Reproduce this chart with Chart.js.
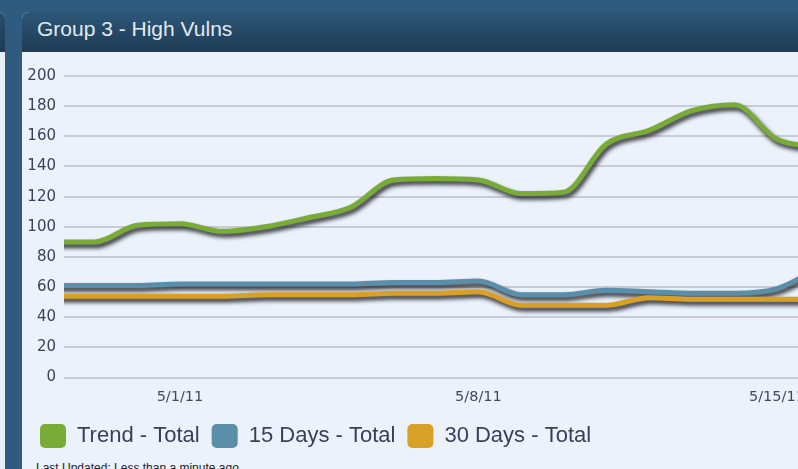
<!DOCTYPE html>
<html>
<head>
<meta charset="utf-8">
<script src="https://cdn.jsdelivr.net/npm/chart.js@4.4.0/dist/chart.umd.min.js"></script>
<style>
html, body { margin: 0; padding: 0; width: 798px; height: 469px; overflow: hidden; background: #2e5b7e; font-family: "Liberation Sans", Arial, sans-serif; }
#leftPanel { position: absolute; left: -30px; top: 12px; width: 35px; height: 480px; background: #e6edf6; border-radius: 0 6px 0 0; overflow: hidden; }
#leftPanel .hd { height: 40px; background: linear-gradient(#2b5070, #1d3a52); }
#panel { position: absolute; left: 22px; top: 12px; width: 820px; height: 480px; background: #ebf2fb; border-radius: 7px 0 0 0; overflow: hidden; }
#panel .hd { height: 40px; background: linear-gradient(#2d5778, #1d3b54); color: #e2eaf0; font-size: 21px; line-height: 33px; padding-left: 15px; }
#wrap { position: absolute; left: 2px; top: 40px; width: 880px; height: 406px; }
#updated { position: absolute; left: 14px; top: 449px; font-size: 12px; color: #222; white-space: nowrap; }
</style>
</head>
<body>
<div id="leftPanel"><div class="hd"></div></div>
<div id="panel">
  <div class="hd">Group 3 - High Vulns</div>
  <div id="wrap"><canvas id="vulnChart"></canvas></div>
  <div id="updated">Last Updated: Less than a minute ago</div>
</div>
<script>
// one point per day
const dates = ['4/28/11', '4/29/11', '4/30/11', '5/1/11', '5/2/11', '5/3/11', '5/4/11', '5/5/11', '5/6/11', '5/7/11',
  '5/8/11', '5/9/11', '5/10/11', '5/11/11', '5/12/11', '5/13/11', '5/14/11', '5/15/11', '5/16/11'];
const tickDates = ['5/1/11', '5/8/11', '5/15/11'];
const trendTotal = [90, 90, 101, 102, 97, 100, 106, 113, 131, 132, 131, 122, 123, 155, 164, 177, 181, 158, 153];
const days15Total = [61, 61, 61, 62, 62, 62, 62, 62, 63, 63, 64, 55, 55, 58, 57, 56, 56, 59, 73];
const days30Total = [54, 54, 54, 54, 54, 55, 55, 55, 56, 56, 57, 48, 48, 48, 53, 52, 52, 52, 52];
const yTicks = [0, 20, 40, 60, 80, 100, 120, 140, 160, 180, 200];

const toPoints = arr => arr.map((v, i) => ({ x: i, y: v }));

// drop shadow under the lines
const lineShadow = {
  id: 'lineShadow',
  beforeDatasetsDraw(chart) {
    const c = chart.ctx;
    c.save();
    c.shadowColor = 'rgba(20, 20, 24, 0.9)';
    c.shadowBlur = 4;
    c.shadowOffsetX = 2;
    c.shadowOffsetY = 3.5;
  },
  afterDatasetsDraw(chart) {
    chart.ctx.restore();
  }
};

function makeSet(label, data, color, order) {
  return {
    label: label,
    data: toPoints(data),
    borderColor: color,
    backgroundColor: color,
    borderWidth: 5,
    pointRadius: 0,
    cubicInterpolationMode: 'monotone',
    borderCapStyle: 'round',
    borderJoinStyle: 'round',
    fill: false,
    clip: 0,
    order: order
  };
}

const ctx = document.getElementById('vulnChart').getContext('2d');
new Chart(ctx, {
  type: 'line',
  data: {
    datasets: [
      makeSet('Trend - Total', trendTotal, '#78ac37', 0),
      makeSet('15 Days - Total', days15Total, '#5a8ea9', 2),
      makeSet('30 Days - Total', days30Total, '#d9a027', 1)
    ]
  },
  options: {
    responsive: true,
    maintainAspectRatio: false,
    animation: false,
    layout: { padding: { left: 4, top: 24, right: 0, bottom: 0 } },
    scales: {
      x: {
        type: 'linear',
        min: 0.28,
        max: 19.98,
        grid: { display: false },
        border: { display: false },
        afterBuildTicks: s => { s.ticks = tickDates.map(d => ({ value: dates.indexOf(d) })); },
        afterFit: s => { s.height += 3; },
        ticks: {
          autoSkip: false,
          maxRotation: 0,
          padding: 3,
          color: '#44485c',
          font: { family: 'DejaVu Sans', size: 14.5 },
          callback: v => dates[v]
        }
      },
      y: {
        min: 0,
        max: 200,
        afterBuildTicks: s => { s.ticks = yTicks.map(v => ({ value: v })); },
        afterFit: s => { s.width = 36; },
        grid: { color: '#c9ccd6', lineWidth: 2, drawTicks: false },
        border: { display: false },
        ticks: {
          padding: 8,
          color: '#3d4158',
          font: { family: 'DejaVu Sans', size: 15 }
        }
      }
    },
    plugins: {
      tooltip: { enabled: false },
      legend: {
        position: 'bottom',
        align: 'start',
        labels: {
          boxWidth: 26,
          boxHeight: 24,
          useBorderRadius: true,
          borderRadius: 5,
          padding: 12,
          color: '#3a3f58',
          font: { family: 'Liberation Sans', size: 22 },
          sort: (a, b) => a.datasetIndex - b.datasetIndex,
          generateLabels: chart => Chart.defaults.plugins.legend.labels.generateLabels(chart)
            .map(l => Object.assign(l, { lineWidth: 0 }))
        }
      }
    }
  },
  plugins: [lineShadow]
});
</script>
</body>
</html>
